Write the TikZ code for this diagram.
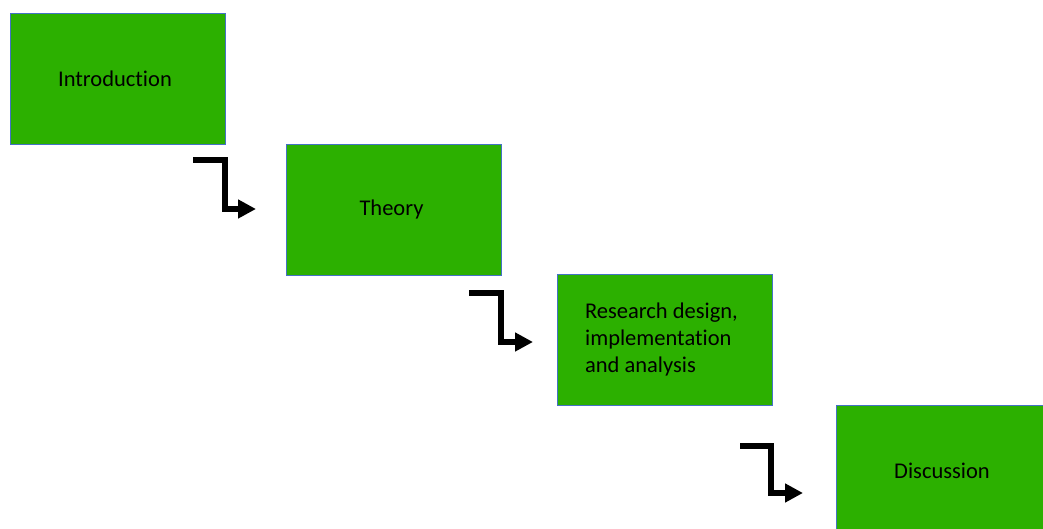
\documentclass[tikz,border=0pt]{standalone}
\usepackage{fontspec}
\setmainfont[Ligatures={NoCommon}]{Carlito}
\usetikzlibrary{arrows.meta}
\definecolor{boxgreen}{RGB}{44,176,0}
\definecolor{boxborder}{RGB}{68,114,196}
\begin{document}
\begin{tikzpicture}[x=1pt,y=1pt,
  stagebox/.style={draw=boxborder, line width=0.8pt, fill=boxgreen,
    minimum width=215pt, minimum height=131pt, inner sep=0pt,
    font=\fontsize{22.5}{27}\selectfont, text=black},
  bentarrow/.style={draw=black, line width=6pt, miter limit=10,
    -{Triangle[length=18pt,width=18pt]}}]
\useasboundingbox (0,0) rectangle (1043,529);
\clip (0,0) rectangle (1043,529);
% boxes (y = 529 - pixel y)
\node[stagebox] (intro) at (117.5,450.5) {Introduction\hspace*{5pt}};
\node[stagebox] (theory) at (394,319.5) {Theory\hspace*{5pt}};
\node[stagebox, align=left] (research) at (664.5,189) {Research design,\hspace*{6pt}\\implementation\\and analysis};
\node[stagebox] (discussion) at (943.5,58.5) {Discussion\hspace*{3pt}};
% arrows
\coordinate (a1s) at (193,369);
\coordinate (a1e) at (256,320);
\coordinate (a2s) at (469,236);
\coordinate (a2e) at (533,187);
\coordinate (a3s) at (740,83);
\coordinate (a3e) at (803,36);
\draw[bentarrow] (a1s) -- (225,369) -- (225,320) -- (a1e);
\draw[bentarrow] (a2s) -- (501,236) -- (501,187) -- (a2e);
\draw[bentarrow] (a3s) -- (771,83) -- (771,36) -- (a3e);
\end{tikzpicture}
\end{document}
